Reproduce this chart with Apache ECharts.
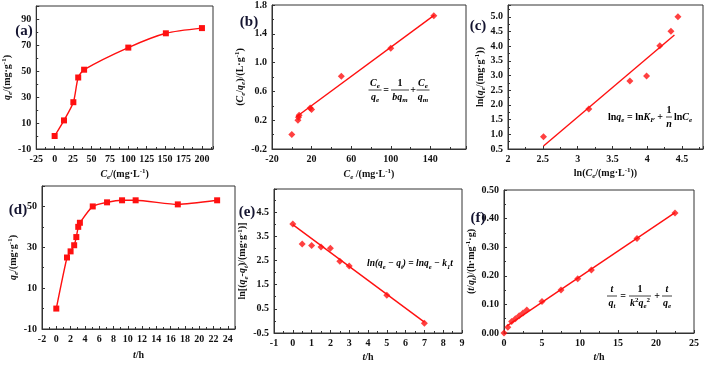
<!DOCTYPE html>
<html>
<head>
<meta charset="utf-8">
<script src="https://cdn.jsdelivr.net/npm/echarts@6/dist/echarts.min.js"></script>
<style>
html, body { margin: 0; padding: 0; background: #fff; }
#main { width: 711px; height: 367px; }
</style>
</head>
<body>
<div id="main"></div>
<script>
// (a) adsorption isotherm
const isoCe = [0, 12.7, 25.4, 32, 40, 100, 151, 200];
const isoQe = [0, 12, 26, 45, 51, 68, 79, 83];
// (b) Langmuir
const langX = [0, 6.2, 6.8, 7.4, 18.6, 20, 50, 100, 143.5];
const langY = [0, 0.2, 0.24, 0.27, 0.37, 0.35, 0.81, 1.2, 1.65];
const langFit = [[4.4, 0.245], [144, 1.66]];
// (c) Freundlich
const freX = [2.51, 3.16, 3.75, 3.99, 4.18, 4.34, 4.44];
const freY = [0.92, 1.86, 2.81, 2.98, 4.01, 4.51, 5.0];
const freFit = [[2.51, 0.6], [4.39, 4.38]];
// (d) kinetics
const kinT = [0, 1.5, 2, 2.5, 2.8, 3.07, 3.3, 5.1, 7.1, 9.2, 11.1, 17, 22.5];
const kinQt = [0, 25, 28, 31, 35, 40, 42, 50, 52, 53, 53, 51, 53];
// (e) pseudo-first-order
const pfoT = [0, 0.5, 1, 1.5, 2, 2.5, 3, 5, 7];
const pfoY = [4.0, 3.18, 3.12, 3.05, 3.0, 2.46, 2.27, 1.06, -0.1];
const pfoFit = [[0, 3.98], [7, -0.05]];
// (f) pseudo-second-order
const psoT = [0, 0.5, 1, 1.5, 2, 2.5, 3, 5, 7.5, 9.7, 11.5, 17.5, 22.5];
const psoY = [0, 0.02, 0.04, 0.05, 0.06, 0.07, 0.08, 0.11, 0.15, 0.19, 0.22, 0.33, 0.42];
const psoFit = [[0.4, 0.025], [22.5, 0.421]];

const panelLabels = ['(a)', '(b)', '(c)', '(d)', '(e)', '(f)'];

const SERIF = '"Liberation Serif", "Times New Roman", serif';
const INK = '#111';
const RED = '#ff1010';

function pair(xs, ys) { return xs.map((x, i) => [x, ys[i]]); }

const rich = {
  i: { fontFamily: SERIF, fontWeight: 'bold', fontStyle: 'italic', fontSize: 10, color: INK, lineHeight: 13 },
  b: { fontFamily: SERIF, fontWeight: 'bold', fontSize: 10, color: INK, lineHeight: 13 },
  sb: { fontFamily: SERIF, fontWeight: 'bold', fontStyle: 'italic', fontSize: 7, color: INK, verticalAlign: 'bottom' },
  sp: { fontFamily: SERIF, fontWeight: 'bold', fontSize: 7, color: INK, verticalAlign: 'top' },
  ei: { fontFamily: SERIF, fontWeight: 'bold', fontStyle: 'italic', fontSize: 9.5, color: INK, lineHeight: 13 },
  es: { fontFamily: SERIF, fontWeight: 'bold', fontStyle: 'italic', fontSize: 6.5, color: INK, verticalAlign: 'bottom' }
};

const grids = [
  { left: 36, top: 6, width: 177, height: 143 },
  { left: 272, top: 5, width: 194, height: 144 },
  { left: 508, top: 5, width: 195, height: 144 },
  { left: 42, top: 186, width: 193, height: 143 },
  { left: 274, top: 189, width: 188, height: 144 },
  { left: 504, top: 190, width: 190, height: 143 }
].map(g => Object.assign({ show: true, borderColor: '#333', borderWidth: 1, backgroundColor: 'transparent' }, g));

function axis(i, min, max, interval, name, gap, opts) {
  opts = opts || {};
  return {
    type: 'value', gridIndex: i, min: min, max: max, interval: interval,
    name: name, nameLocation: 'middle', nameGap: gap,
    nameTextStyle: { rich: rich },
    axisLine: { show: true, onZero: false, lineStyle: { color: '#333', width: 1 } },
    axisTick: { show: true, inside: true, length: 3, lineStyle: { color: '#333' } },
    minorTick: { show: true, splitNumber: 2, length: 2, lineStyle: { color: '#333' } },
    splitLine: { show: false },
    axisLabel: {
      color: INK, fontFamily: SERIF, fontWeight: 'bold', fontSize: 10, margin: 5,
      showMaxLabel: opts.showMax !== false,
      formatter: opts.fmt
    }
  };
}
const f1 = v => v.toFixed(1);
const f2 = v => v.toFixed(2);

const xAxis = [
  axis(0, -25, 215, 25, '{i|C}{sb|e}{b|/(mg·L}{sp|-1}{b|)}', 19, { showMax: false }),
  axis(1, -20, 176, 40, '{i|C}{sb|e}{b| /(mg·L}{sp|-1}{b|)}', 19, { showMax: false }),
  axis(2, 2, 4.8, 0.5, '{b|ln(}{i|C}{sb|e}{b|/(mg·L}{sp|-1}{b|))}', 18, { showMax: false }),
  axis(3, -2, 25, 2, '{i|t}{b|/h}', 20, { showMax: false }),
  axis(4, -1, 9, 1, '{i|t}{b|/h}', 18),
  axis(5, 0, 25, 5, '{i|t}{b|/h}', 18)
];
const yAxis = [
  axis(0, -10, 100, 20, '{i|q}{sb|e}{b|/(mg·g}{sp|-1}{b|)}', 18, { showMax: false }),
  axis(1, -0.2, 1.8, 0.4, '{b|(}{i|C}{sb|e}{b|/}{i|q}{sb|e}{b|)/(L·g}{sp|-1}{b|)}', 25, { fmt: f1 }),
  axis(2, 0.5, 5.4, 0.5, '{b|ln(}{i|q}{sb|e}{b|/(mg·g}{sp|-1}{b|))}', 15, { showMax: false, fmt: f1 }),
  axis(3, -10, 60, 20, '{i|q}{sb|e}{b|/(mg·g}{sp|-1}{b|)}', 21, { showMax: false }),
  axis(4, -0.5, 5.45, 1, '{b|ln[(}{i|q}{sb|e}{b|-}{i|q}{sb|t}{b|)/(mg·g}{sp|-1}{b|)]}', 22, { showMax: false, fmt: f1 }),
  axis(5, 0, 0.5, 0.1, '{b|(}{i|t}{b|/}{i|q}{sb|t}{b|)/(h·mg}{sp|-1}{b|·g)}', 24, { fmt: f2 })
];

function pts(i, data, sym, size) {
  return { type: 'scatter', xAxisIndex: i, yAxisIndex: i, data: data, symbol: sym, symbolSize: size,
    itemStyle: { color: RED }, z: 5 };
}
function fit(i, data) {
  return { type: 'line', xAxisIndex: i, yAxisIndex: i, data: data, showSymbol: false,
    lineStyle: { color: RED, width: 1.4 }, z: 4 };
}
function curve(i, data, smooth) {
  return { type: 'line', xAxisIndex: i, yAxisIndex: i, data: data, smooth: smooth,
    symbol: 'rect', symbolSize: 6, itemStyle: { color: RED }, lineStyle: { color: RED, width: 1.4 } };
}

const series = [
  curve(0, pair(isoCe, isoQe), 0.25),
  fit(1, langFit), pts(1, pair(langX, langY), 'diamond', 7),
  fit(2, freFit), pts(2, pair(freX, freY), 'diamond', 7),
  curve(3, pair(kinT, kinQt), 0.2),
  fit(4, pfoFit), pts(4, pair(pfoT, pfoY), 'diamond', 7),
  fit(5, psoFit), pts(5, pair(psoT, psoY), 'diamond', 7)
];

// equation / label helpers
function txt(x, y, s, align, va) {
  return { type: 'text', x: x, y: y, z: 100,
    style: { text: s, rich: rich, align: align || 'left', verticalAlign: va || 'middle' } };
}
function bar(x1, x2, y) {
  return { type: 'line', z: 100, shape: { x1: x1, y1: y, x2: x2, y2: y }, style: { stroke: INK, lineWidth: 0.8 } };
}
function frac(cx, y, w, num, den) {
  return [txt(cx, y - 0.5, num, 'center', 'bottom'), bar(cx - w / 2, cx + w / 2, y), txt(cx, y + 1, den, 'center', 'top')];
}

const panelPos = [[24, 31], [249, 22], [478, 26], [18, 210], [247, 212], [478, 218]];
const graphic = panelLabels.map((s, k) => ({
  type: 'text', x: panelPos[k][0], y: panelPos[k][1], z: 100,
  style: { text: s, fontFamily: SERIF, fontWeight: 'bold', fontSize: 15, fill: '#141430', align: 'center', verticalAlign: 'middle' }
})).concat(
  // (b) Langmuir equation
  frac(375, 90, 13, '{i|C}{sb|e}', '{i|q}{sb|e}'),
  [txt(386, 90, '{b|=}', 'center')],
  frac(400, 90, 18, '{b|1}', '{i|bq}{sb|m}'),
  [txt(413, 90, '{b|+}', 'center')],
  frac(423, 90, 13, '{i|C}{sb|e}', '{i|q}{sb|m}'),
  // (c) Freundlich equation
  [txt(608, 117, '{b|ln}{i|q}{sb|e}{b| = ln}{i|K}{sb|F}{b| +}')],
  frac(669, 117, 6, '{b|1}', '{i|n}'),
  [txt(674, 117, '{b|ln}{i|C}{sb|e}')],
  // (e) pseudo-first-order
  [txt(367, 264, '{ei|ln(q}{es|e}{ei| − q}{es|t}{ei|) = lnq}{es|e}{ei| − k}{es|1}{ei|t}')],
  // (f) pseudo-second-order
  frac(612, 296, 10, '{i|t}', '{i|q}{sb|t}'),
  [txt(623, 296, '{b|=}', 'center')],
  frac(640, 296, 22, '{b|1}', '{i|k}{sp|2}{i|q}{sb|e}{sp|2}'),
  [txt(657, 296, '{b|+}', 'center')],
  frac(667, 296, 10, '{i|t}', '{i|q}{sb|e}')
);

const chart = echarts.init(document.getElementById('main'));
chart.setOption({
  animation: false,
  backgroundColor: '#fff',
  grid: grids,
  xAxis: xAxis,
  yAxis: yAxis,
  series: series,
  graphic: graphic
});
</script>
</body>
</html>
